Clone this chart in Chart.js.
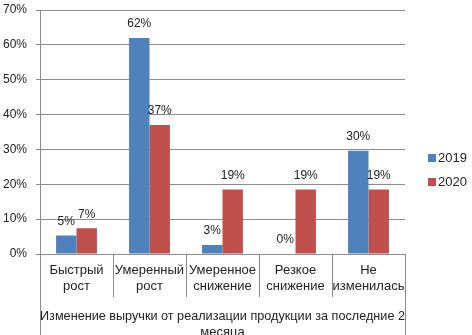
<!DOCTYPE html>
<html>
<head>
<meta charset="utf-8">
<script src="https://cdn.jsdelivr.net/npm/chart.js@4.4.1/dist/chart.umd.min.js"></script>
<style>
  html, body { margin: 0; padding: 0; background: #fff; }
  #wrap { width: 472px; height: 335px; }
</style>
</head>
<body>
<div id="wrap"><canvas id="c" width="472" height="335"></canvas></div>
<script>
const categories = [
  ['Быстрый', 'рост'],
  ['Умеренный', 'рост'],
  ['Умеренное', 'снижение'],
  ['Резкое', 'снижение'],
  ['Не', 'изменилась']
];
const values2019 = [5.3, 62, 2.6, 0, 29.6];
const values2020 = [7.4, 37, 18.5, 18.5, 18.5];
const yTicks = [0, 10, 20, 30, 40, 50, 60, 70];
const axisTitle = ['Изменение выручки от реализации продукции за последние 2', 'месяца'];

const font = 'Liberation Sans';
const gridColor = '#8c8c8c';

// value labels over the bars
const barLabels = {
  id: 'barLabels',
  afterDatasetsDraw(chart) {
    const ctx = chart.ctx;
    ctx.save();
    ctx.font = '12px "' + font + '"';
    ctx.fillStyle = '#222';
    ctx.textAlign = 'center';
    ctx.textBaseline = 'middle';
    chart.data.datasets.forEach((ds, i) => {
      chart.getDatasetMeta(i).data.forEach((bar, j) => {
        ctx.fillText(Math.round(ds.data[j]) + '%', bar.x, bar.y - 14);
      });
    });
    ctx.restore();
  }
};

// side borders of the category table + legend on the right
const extras = {
  id: 'extras',
  afterDraw(chart) {
    const { ctx, chartArea } = chart;
    ctx.save();
    ctx.strokeStyle = gridColor;
    ctx.lineWidth = 1;
    ctx.beginPath();
    ctx.moveTo(Math.round(chartArea.left) + 0.5, chartArea.bottom);
    ctx.lineTo(Math.round(chartArea.left) + 0.5, chart.height);
    ctx.moveTo(Math.round(chartArea.right) + 0.5, chartArea.bottom);
    ctx.lineTo(Math.round(chartArea.right) + 0.5, chart.height);
    ctx.stroke();

    ctx.font = '13px "' + font + '"';
    ctx.textBaseline = 'middle';
    ctx.textAlign = 'left';
    chart.data.datasets.forEach((ds, i) => {
      const y = 158 + i * 24;
      const x = chartArea.right + 23;
      ctx.fillStyle = ds.backgroundColor;
      ctx.fillRect(x, y - 4, 8, 8);
      ctx.fillStyle = '#222';
      ctx.fillText(ds.label, x + 10, y);
    });
    ctx.restore();
  }
};

new Chart(document.getElementById('c'), {
  type: 'bar',
  data: {
    labels: categories,
    datasets: [
      { label: '2019', data: values2019, backgroundColor: '#4F81BD' },
      { label: '2020', data: values2020, backgroundColor: '#C0504D' }
    ]
  },
  options: {
    responsive: false,
    animation: false,
    layout: { padding: { top: 0, right: 67, left: 0, bottom: 0 } },
    datasets: { bar: { categoryPercentage: 0.56, barPercentage: 1.0 } },
    plugins: {
      legend: { display: false },
      tooltip: { enabled: false }
    },
    scales: {
      x: {
        grid: {
          offset: true,
          drawOnChartArea: false,
          tickLength: 43,
          color: gridColor
        },
        border: { color: gridColor },
        ticks: {
          padding: -34,
          color: '#222',
          maxRotation: 0,
          autoSkip: false,
          font: { family: font, size: 13 }
        },
        title: {
          display: true,
          text: axisTitle,
          color: '#222',
          padding: { top: 0, bottom: -5 },
          font: { family: font, size: 13 }
        },
        afterFit(scale) { scale.height = 81; }
      },
      y: {
        min: 0,
        max: 70,
        afterBuildTicks(scale) { scale.ticks = yTicks.map(v => ({ value: v })); },
        grid: { color: gridColor, tickLength: 4 },
        border: { color: gridColor },
        ticks: {
          color: '#222',
          padding: 9,
          font: { family: font, size: 12 },
          callback: v => v + '%'
        },
        afterFit(scale) {
          scale.width = 40;
          scale.paddingTop = 10;
          scale.paddingBottom = 0;
        }
      }
    }
  },
  plugins: [barLabels, extras]
});
</script>
</body>
</html>
